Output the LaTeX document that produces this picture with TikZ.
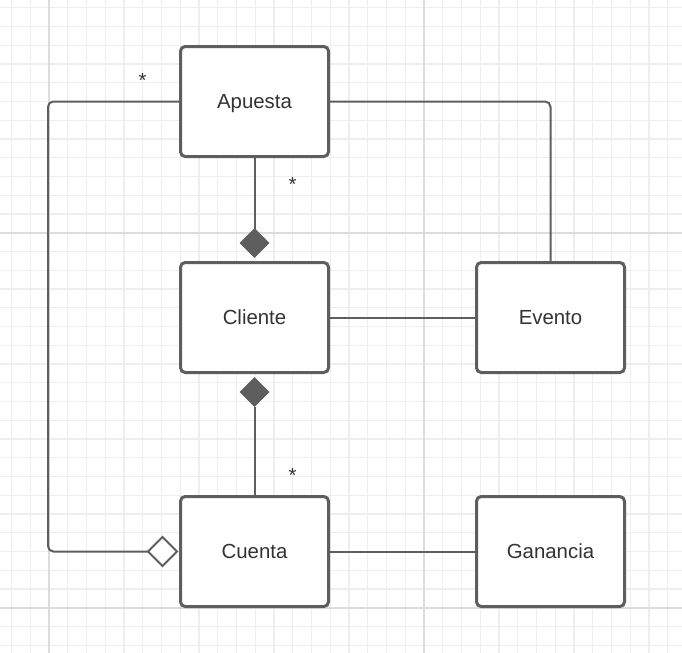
\documentclass[tikz,border=0pt]{standalone}
\usepackage{fontspec}
\setmainfont{Liberation Sans}
\usetikzlibrary{calc,backgrounds}
\definecolor{gminor}{HTML}{EEEEEE}
\definecolor{gmajor}{HTML}{DCDCDC}
\definecolor{edge}{HTML}{5E5E5E}
\definecolor{txt}{HTML}{333333}
\begin{document}
\begin{tikzpicture}[x=0.75pt,y=-0.75pt,
  cls/.style={draw=edge, line width=2.25pt, fill=white, rounded corners=3.5pt,
    minimum width=111pt, minimum height=82.5pt, inner sep=0pt,
    text height=11.2pt, text depth=0pt,
    font=\fontsize{15.3pt}{18pt}\selectfont, text=txt},
  conn/.style={draw=edge, line width=1.5pt},
  mult/.style={anchor=base, inner sep=0pt, font=\fontsize{15.3pt}{18pt}\selectfont, text=txt},
  fdia/.style={fill=edge, draw=edge, line width=0.5pt, line join=miter},
  odia/.style={fill=white, draw=edge, line width=1.4pt, line join=miter}]
\useasboundingbox (0,0) rectangle (682,653);
% nodes
\node[cls] (apuesta) at (254.5,101.5) {Apuesta};
\node[cls] (cliente) at (254.5,317.5) {Cliente};
\node[cls] (evento) at (550.5,317.5) {Evento};
\node[cls] (cuenta) at (254.5,551.5) {Cuenta};
\node[cls] (ganancia) at (550.5,551.5) {Ganancia};
\coordinate (lc) at (48,0);
\coordinate (dtip) at ($(cuenta.west)+(-2,0)$);
\coordinate (dleft) at ($(dtip)+(-29,0)$);
\coordinate (ctop) at ($(cliente.north)+(0,-3.5)$);
\coordinate (ctopend) at ($(ctop)+(0,-29)$);
\coordinate (cbot) at ($(cliente.south)+(0,3.5)$);
\coordinate (cbotend) at ($(cbot)+(0,29)$);
\begin{scope}[on background layer]
\fill[white] (0,0) rectangle (682,653);
% grid
\foreach \i in {-2,...,33} \draw[gminor, line width=0.9pt] ({49+\i*18.75},0) -- ({49+\i*18.75},653);
\foreach \j in {-12,...,22} \draw[gminor, line width=0.9pt] (0,{232.7+\j*18.75}) -- (682,{232.7+\j*18.75});
\foreach \x in {49,424} \draw[gmajor, line width=1.2pt] (\x,0) -- (\x,653);
\foreach \y in {232.7,607.7} \draw[gmajor, line width=1.2pt] (0,\y) -- (682,\y);
% connectors
\draw[conn, rounded corners=4pt] (apuesta.west) -- (apuesta.west -| lc) -- (lc |- dleft) -- (dleft);
\draw[conn, rounded corners=4pt] (apuesta.east) -| (evento.north);
\draw[conn] (apuesta.south) -- (ctopend);
\draw[conn] (cuenta.north) -- (cbotend);
\draw[conn] (cliente.east) -- (evento.west);
\draw[conn] (cuenta.east) -- (ganancia.west);
\end{scope}
% diamonds
\draw[fdia] (ctop) -- ++(14.5,-14.5) -- (ctopend) -- ++(-14.5,14.5) -- cycle;
\draw[fdia] (cbot) -- ++(14.5,14.5) -- (cbotend) -- ++(-14.5,-14.5) -- cycle;
\draw[odia] (dtip) -- ++(-14.5,-14.5) -- (dleft) -- ++(14.5,14.5) -- cycle;
% multiplicities
\node[mult] (m1) at (142.5,87) {*};
\node[mult] (m2) at (292.5,191) {*};
\node[mult] (m3) at (292.5,482.5) {*};
\end{tikzpicture}
\end{document}
